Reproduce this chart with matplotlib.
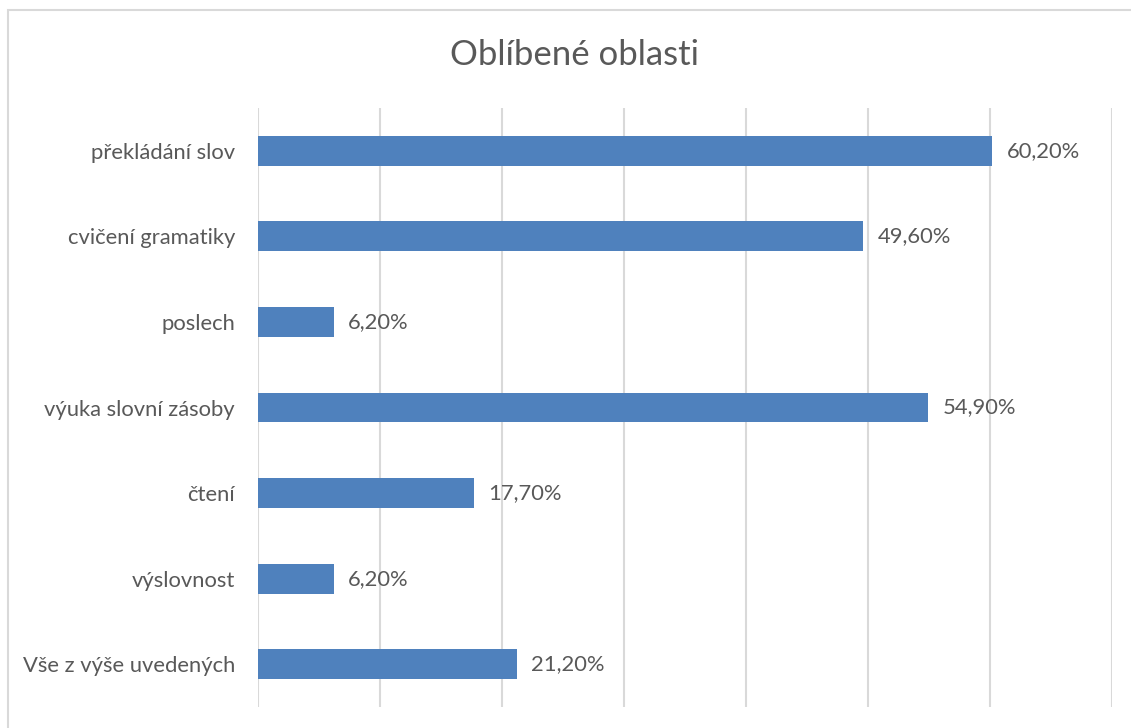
import matplotlib.pyplot as plt
from matplotlib.patches import Rectangle

# Data
categories = ["překládání slov", "cvičení gramatiky", "poslech", "výuka slovní zásoby",
              "čtení", "výslovnost", "Vše z výše uvedených"]
values = [60.2, 49.6, 6.2, 54.9, 17.7, 6.2, 21.2]
labels = ["60,20%", "49,60%", "6,20%", "54,90%", "17,70%", "6,20%", "21,20%"]

plt.rcParams['font.family'] = ['Lato', 'DejaVu Sans']
text_color = "#595959"

fig = plt.figure(figsize=(11.31, 7.28), dpi=100)
ax = fig.add_axes([258 / 1131, 1 - 707 / 728, (1112 - 258) / 1131, (707 - 108) / 728])

y = list(range(len(categories)))
ax.barh(y, values, height=0.35, color="#4F81BD", zorder=3)
ax.set_ylim(len(categories) - 0.5, -0.5)
ax.set_xlim(0, 70)

for yi, v, lab in zip(y, values, labels):
    ax.text(v + 1.2, yi, lab, va="center", ha="left", fontsize=15.8, color=text_color)

ax.set_yticks(y)
ax.set_yticklabels(categories, fontsize=15.8, color=text_color)
ax.tick_params(axis="y", length=0, pad=16.5)
ax.set_xticks(range(0, 71, 10))
ax.tick_params(axis="x", length=0, labelbottom=False)
ax.grid(axis="x", color="#D9D9D9", linewidth=1.5, zorder=0)
for s in ax.spines.values():
    s.set_visible(False)

fig.text(575 / 1131, 1 - 55 / 728, "Oblíbené oblasti", ha="center", va="center",
         fontsize=25, color=text_color)

# light frame around the chart area
fig.patches.append(Rectangle((8 / 1131, -0.1), 1.2, 1.1 - 10 / 728, transform=fig.transFigure,
                             fill=False, edgecolor="#D9D9D9", linewidth=1.5))

fig.savefig("out.png", dpi=100)
